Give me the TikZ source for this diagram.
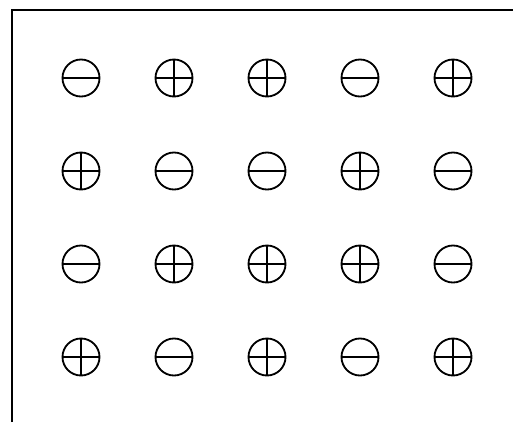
\documentclass[tikz,border=0pt]{standalone}
\usepackage{tikz}
\usetikzlibrary{shapes}

\tikzset{sign/.style={circle,draw,line width=1.3pt,minimum size=0.925cm,inner sep=0pt}}

\begin{document}
\begin{tikzpicture}[x=0.025cm,y=-0.025cm]
\useasboundingbox (0,0) rectangle (513,422);
\draw [line width=1.4pt] (12,422) -- (12,10) -- (513,10);
\foreach \r/\signs in {1/{m,p,p,m,p},2/{p,m,m,p,m},3/{m,p,p,p,m},4/{p,m,p,m,p}}{
  \foreach \s [count=\c] in \signs {
    \node [sign] (s\r\c) at ({81+93*(\c-1)},{78+93*(\r-1)}) {};
    \draw [line width=1.1pt] (s\r\c.west) -- (s\r\c.east);
    \if\s p
      \draw [line width=1.1pt] (s\r\c.north) -- (s\r\c.south);
    \fi
  }
}
\end{tikzpicture}
\end{document}
